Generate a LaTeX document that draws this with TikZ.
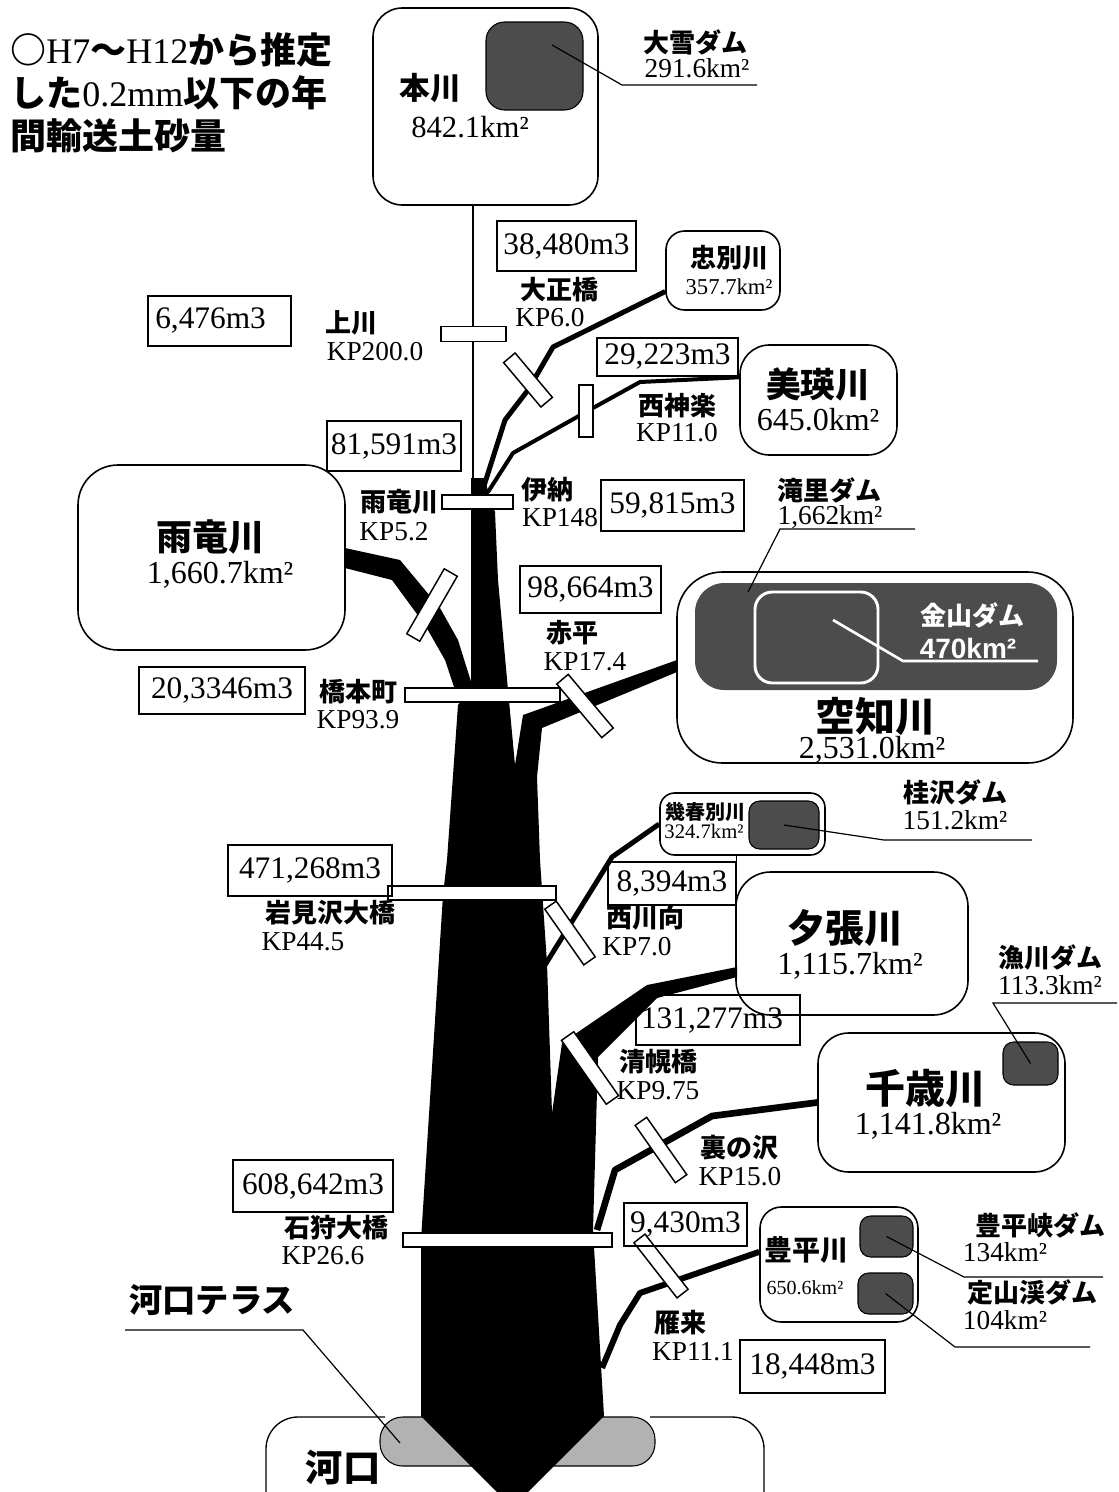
\documentclass[tikz,border=0pt]{standalone}
\usepackage{fontspec}
\setmainfont{Liberation Serif}
\newfontfamily\jpfont{Noto Sans CJK JP}
\newfontfamily\lsans{Liberation Sans}
\newcommand\fsz[1]{\fontsize{#1}{#1}\selectfont}
\newcommand\jb[1]{{\jpfont\bfseries #1}}
\tikzset{
  every node/.style={inner sep=0pt},
  sz/.style n args={2}{minimum width=#1*0.75pt, minimum height=#2*0.75pt},
  nbox/.style={draw, line width=1.1pt, font=\fsz{23.5}},
  rbox/.style={draw, line width=1.2pt},
  dam/.style={draw, line width=0.8pt, fill=black!70},
  bridge/.style={draw, fill=white, line width=1.1pt, minimum height=10.5pt},
  lbl/.style={font=\jpfont\bfseries\fsz{19.5}},
  kp/.style={font=\fsz{20.5}},
  area/.style={font=\fsz{24}},
  big/.style={font=\jpfont\bfseries\fsz{28}},
  call/.style={line width=0.9pt},
  trib/.style={line width=#1, line join=round},
}
\begin{document}
\begin{tikzpicture}[x=0.75pt,y=-0.75pt]
\useasboundingbox (0,0) rectangle (1119,1492);

% ---------- title
\node[anchor=west, font=\fsz{27}] (title1) at (10,50) {\jb{○}H7\jb{～}H12\jb{から推定}};
\node[anchor=west, font=\fsz{27}] (title2) at (10,93) {\jb{した}0.2mm\jb{以下の年}};
\node[anchor=west, font=\fsz{27}] (title3) at (10,136) {\jb{間輸送土砂量}};

% ---------- estuary outline and terrace
\draw[line width=1pt, rounded corners=24pt] (266,1492) -- (266,1417) -- (385,1417);
\draw[line width=1pt, rounded corners=24pt] (650,1417) -- (764,1417) -- (764,1492);
\node[draw, line width=0.8pt, fill=black!30, sz={275}{49}, rounded corners=17pt] (terrace) at (517.5,1441.5) {};

% ---------- trunk (black)
\fill[black] (471,478) -- (471,690) -- (458,705) -- (447,860) -- (443,895) -- (421,1240)
  -- (421,1416) -- (497,1492) -- (528,1492) -- (604,1416) -- (593,1230) -- (598,1057)
  -- (657,998) -- (737,977) -- (737,967) -- (647,985) -- (562,1043) -- (552,1113)
  -- (547,963) -- (540,860) -- (537,777) -- (542,728) -- (677,672) -- (677,660)
  -- (523,715) -- (515,765) -- (508,690) -- (498,580) -- (495,512) -- (484,478) -- cycle;
% Uryu branch
\fill[black] (345,548) -- (400,560) -- (440,608) -- (458,640) -- (473,688) -- (460,705)
  -- (445,660) -- (425,625) -- (392,580) -- (345,568) -- cycle;

% ---------- river boxes
\node[rbox, sz={225}{197}, rounded corners=22pt] (hon) at (485.5,106.5) {};
\node[dam, sz={97}{88}, rounded corners=14pt] (taisetsu) at (534.5,66) {};
\node[rbox, sz={114}{79}, rounded corners=14pt] (chu) at (723,270.5) {};
\node[rbox, sz={157}{110}, rounded corners=22pt] (biei) at (818.5,400) {};
\node[rbox, sz={267}{185}, rounded corners=30pt] (uryu) at (211.5,557.5) {};
\node[rbox, sz={396}{191}, rounded corners=34pt] (sora) at (875,667.5) {};
\node[dam, draw=none, sz={362}{107}, rounded corners=22pt] (takisato) at (876,636.5) {};
\node[draw=white, line width=2.2pt, sz={123}{91}, rounded corners=13pt] (kanayama) at (816.5,637.5) {};
\node[rbox, sz={165}{62}, rounded corners=11pt] (iku) at (742.5,824) {};
\node[dam, sz={70}{48}, rounded corners=8pt] (katsura) at (784,825) {};
\node[rbox, sz={232}{143}, rounded corners=26pt] (yubari) at (852,943.5) {};
\node[rbox, sz={247}{139}, rounded corners=23pt] (chitose) at (941.5,1102.5) {};
\node[dam, sz={55}{43}, rounded corners=8pt] (izari) at (1030.5,1063.5) {};
\node[rbox, sz={158}{115}, rounded corners=16pt] (toyo) at (839,1264.5) {};
\node[dam, sz={53}{41}, rounded corners=8pt] (hoheikyo) at (886.5,1236.5) {};
\node[dam, sz={55}{41}, rounded corners=8pt] (jozankei) at (885.5,1293.5) {};

% ---------- tributary lines
\coordinate (c1) at (553,347); \coordinate (c2) at (528,390); \coordinate (c3) at (505,420);
\coordinate (c4) at (482,492);
\draw[trib=3.75pt] (chu.200) -- (c1) -- (c2) -- (c3) -- (c4);
\coordinate (b1) at (640,382); \coordinate (b2) at (593,408); \coordinate (b3) at (513,453);
\coordinate (b4) at (488,492);
\draw[trib=3pt] (biei.164) -- (b1) -- (b2) -- (b3) -- (b4);
\coordinate (honbot) at (473,205);
\draw[line width=1.1pt] (honbot) -- (473,482);
\coordinate (n1) at (612,857); \coordinate (n2) at (545,965);
\draw[trib=3.75pt] (iku.west) -- (n1) -- (n2);
\coordinate (u1) at (712,1116); \coordinate (u2) at (615,1170); \coordinate (u3) at (597,1230);
\draw[trib=5pt] (chitose.west) -- (u1) -- (u2) -- (u3);
\coordinate (g1) at (640,1293); \coordinate (g2) at (620,1325); \coordinate (g3) at (602,1368);
\draw[trib=4.5pt] (toyo.171) -- (g1) -- (g2) -- (g3);

% ---------- bridges
\node[bridge, sz={65}{15}] (brKamikawa) at (473.5,334) {};
\node[bridge, sz={58}{15}, rotate=-50] (brTaisho) at (528,380) {};
\node[bridge, sz={14}{52}, minimum height=39pt] (brNishikagura) at (586,411) {};
\node[bridge, sz={71}{14}] (brIno) at (477.5,502) {};
\node[bridge, sz={75}{15}, rotate=60] (brUryu) at (432,605) {};
\node[bridge, sz={70}{15}, rotate=-50] (brAkabira) at (585,706) {};
\node[bridge, sz={155}{14}] (brHashimoto) at (482.5,695) {};
\node[bridge, sz={168}{14}] (brIwamizawa) at (472,893) {};
\node[bridge, sz={68}{14}, rotate=-55] (brNishikawa) at (570,933) {};
\node[bridge, sz={78}{15}, rotate=-55] (brSeiho) at (590,1068) {};
\node[bridge, sz={70}{14}, rotate=-55] (brUranosawa) at (661,1150) {};
\node[bridge, sz={209}{14}] (brIshikari) at (507.5,1240) {};
\node[bridge, sz={70}{14}, rotate=-52] (brKarikii) at (661,1266) {};

% ---------- volume boxes
\node[nbox, sz={139}{50}] (v38480) at (566.5,246) {38,480m3};
\node[nbox, sz={143}{50}] (v6476) at (219.5,321) {};
\node[font=\fsz{23.5}, anchor=west] (v6476t) at (155,321) {6,476m3};
\node[nbox, sz={141}{38}] (v29223) at (667.5,357) {29,223m3};
\node[nbox, sz={134}{50}] (v81591) at (394,446) {81,591m3};
\node[nbox, sz={143}{51}] (v59815) at (672.5,505.5) {59,815m3};
\node[nbox, sz={141}{47}] (v98664) at (590.5,589.5) {98,664m3};
\node[nbox, sz={166}{47}] (v203346) at (222,690.5) {20,3346m3};
\node[nbox, sz={164}{51}] (v471268) at (310,870.5) {471,268m3};
\node[nbox, sz={128}{43}] (v8394) at (672,883.5) {8,394m3};
\draw[line width=1.1pt] (v8394.north east) -- (iku.south -| v8394.north east);
\node[nbox, sz={164}{50}] (v131277) at (718,1020) {};
\node[font=\fsz{23.5}] (v131277t) at (712,1021) {131,277m3};
\node[nbox, sz={123}{43}] (v9430) at (685.5,1224.5) {9,430m3};
\node[nbox, sz={160}{52}] (v608642) at (313,1186) {608,642m3};
\node[nbox, sz={145}{53}] (v18448) at (812.5,1366.5) {18,448m3};

% ---------- river texts
\node[font=\jpfont\bfseries\fsz{23}] (honT) at (430,88) {本川};
\node[font=\fsz{23}] (honA) at (470,127) {842.1km²};
\node[font=\jpfont\bfseries\fsz{19.5}] (chuT) at (729,258) {忠別川};
\node[font=\fsz{17}] (chuA) at (729,287) {357.7km²};
\node[font=\jpfont\bfseries\fsz{26}] (bieiT) at (818,384) {美瑛川};
\node[area] (bieiA) at (818,420) {645.0km²};
\node[font=\jpfont\bfseries\fsz{27}] (uryuT) at (210,537) {雨竜川};
\node[area] (uryuA) at (220,575) {1,660.7km²};
\node[font=\jpfont\bfseries\fsz{19.5}, text=white] (kanaT) at (972,615) {金山ダム};
\node[font=\lsans\bfseries\fsz{21}, text=white] (kanaA) at (968,648) {470km²};
\node[font=\jpfont\bfseries\fsz{30}] (soraT) at (875,716) {空知川};
\node[area] (soraA) at (872,750) {2,531.0km²};
\node[font=\jpfont\bfseries\fsz{15}] (ikuT) at (705,812) {幾春別川};
\node[font=\fsz{15.5}] (ikuA) at (704,831) {324.7km²};
\node[font=\jpfont\bfseries\fsz{29}] (yubariT) at (845,928) {夕張川};
\node[area] (yubariA) at (850,966) {1,115.7km²};
\node[font=\jpfont\bfseries\fsz{30}] (chitoseT) at (925,1088) {千歳川};
\node[area] (chitoseA) at (928,1126) {1,141.8km²};
\node[font=\jpfont\bfseries\fsz{21}] (toyoT) at (806,1250) {豊平川};
\node[font=\fsz{15}] (toyoA) at (805,1288) {650.6km²};
\node[font=\jpfont\bfseries\fsz{28}] (kakoT) at (343,1468) {河口};
\node[font=\jpfont\bfseries\fsz{25}] (terraceT) at (212,1300) {河口テラス};

% ---------- dam labels and callouts
\node[lbl] (taisetsuT) at (695,42) {大雪ダム};
\node[kp] (taisetsuA) at (697,68) {291.6km²};
\coordinate (ts0) at (552,45); \coordinate (ts1) at (622,85); \coordinate (ts2) at (757,85);
\draw[call] (ts0) -- (ts1) -- (ts2);
\node[lbl] (takisatoT) at (829,490) {滝里ダム};
\node[kp] (takisatoA) at (830,517) {1,662km²};
\coordinate (tk0) at (748,592); \coordinate (tk1) at (780,529); \coordinate (tk2) at (915,529);
\draw[call] (tk0) -- (tk1) -- (tk2);
\coordinate (ka0) at (833,620); \coordinate (ka1) at (903,661); \coordinate (ka2) at (1038,661);
\draw[white, line width=2pt] (ka0) -- (ka1) -- (ka2);
\node[lbl] (katsuraT) at (955,792) {桂沢ダム};
\node[kp] (katsuraA) at (955,820) {151.2km²};
\coordinate (kz1) at (884,840); \coordinate (kz2) at (1032,840);
\draw[call] (katsura.center) -- (kz1) -- (kz2);
\node[lbl] (izariT) at (1050,957) {漁川ダム};
\node[kp] (izariA) at (1050,985) {113.3km²};
\coordinate (iz1) at (993,1003); \coordinate (iz2) at (1117,1003);
\draw[call] (izari.center) -- (iz1) -- (iz2);
\node[lbl] (hoheikyoT) at (1040,1225) {豊平峡ダム};
\node[kp] (hoheikyoA) at (1005,1252) {134km²};
\coordinate (hk1) at (964,1277); \coordinate (hk2) at (1103,1277);
\draw[call] (hoheikyo.center) -- (hk1) -- (hk2);
\node[lbl] (jozankeiT) at (1032,1292) {定山渓ダム};
\node[kp] (jozankeiA) at (1005,1320) {104km²};
\coordinate (jz1) at (955,1347); \coordinate (jz2) at (1090,1347);
\draw[call] (jozankei.center) -- (jz1) -- (jz2);
\coordinate (te0) at (125,1330); \coordinate (te1) at (303,1330); \coordinate (te2) at (400,1443);
\draw[call] (te0) -- (te1) -- (te2);

% ---------- station labels
\node[lbl] (sKamikawa) at (351,323) {上川};
\node[kp] (kKamikawa) at (375,352) {KP200.0};
\node[lbl] (sTaisho) at (559,290) {大正橋};
\node[kp] (kTaisho) at (550,318) {KP6.0};
\node[lbl] (sNishikagura) at (677,406) {西神楽};
\node[kp] (kNishikagura) at (677,433) {KP11.0};
\node[lbl] (sUryu) at (399,502) {雨竜川};
\node[kp] (kUryu) at (394,532) {KP5.2};
\node[lbl] (sIno) at (547,490) {伊納};
\node[kp] (kIno) at (560,518) {KP148};
\node[lbl] (sAkabira) at (572,633) {赤平};
\node[kp] (kAkabira) at (585,662) {KP17.4};
\node[lbl] (sHashimoto) at (358,692) {橋本町};
\node[kp] (kHashimoto) at (358,720) {KP93.9};
\node[lbl] (sIwamizawa) at (330,913) {岩見沢大橋};
\node[kp] (kIwamizawa) at (303,942) {KP44.5};
\node[lbl] (sNishikawa) at (645,918) {西川向};
\node[kp] (kNishikawa) at (637,947) {KP7.0};
\node[lbl] (sSeiho) at (658,1062) {清幌橋};
\node[kp] (kSeiho) at (658,1091) {KP9.75};
\node[lbl] (sUranosawa) at (739,1148) {裏の沢};
\node[kp] (kUranosawa) at (740,1177) {KP15.0};
\node[lbl] (sIshikari) at (336,1228) {石狩大橋};
\node[kp] (kIshikari) at (323,1256) {KP26.6};
\node[lbl] (sKarikii) at (680,1323) {雁来};
\node[kp] (kKarikii) at (693,1352) {KP11.1};
\end{tikzpicture}
\end{document}
